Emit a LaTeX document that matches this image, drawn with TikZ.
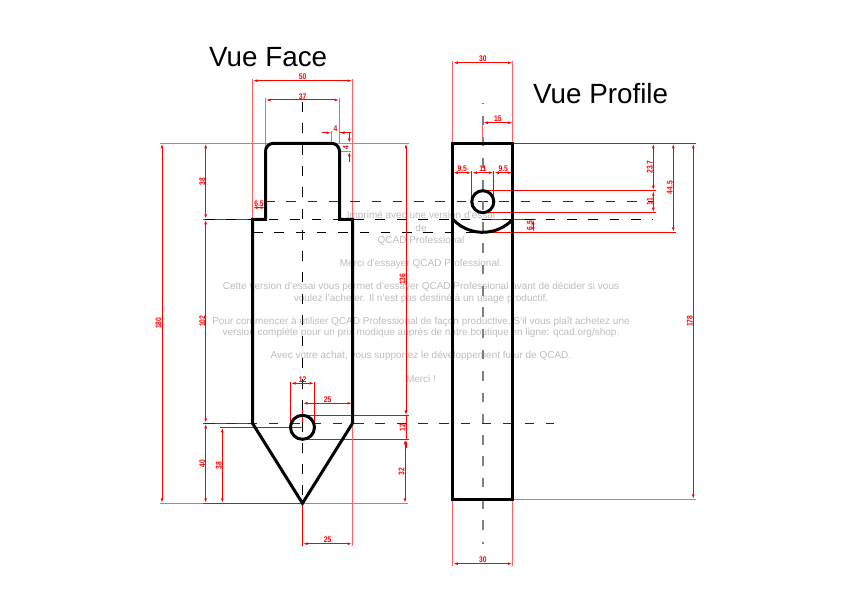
\documentclass[tikz,border=0pt]{standalone}
\usepackage{fontspec}
\setmainfont{Liberation Sans}
\newfontfamily\dimfont[FakeStretch=.82]{Liberation Sans}
\usetikzlibrary{arrows.meta}
\definecolor{wm}{HTML}{BEBEBE}
\definecolor{dk}{HTML}{2A2A2A}
\definecolor{gy}{HTML}{808080}
\definecolor{pk}{HTML}{FF6464}
\tikzset{
  outline/.style={draw=black,line width=3bp,line join=miter,line cap=butt},
  extl/.style={draw=pk,line width=1.35bp},
  exts/.style={draw=red,line width=1bp},
  diml/.style={draw=red,line width=1bp,{Latex[length=5bp,width=2.8bp]}-{Latex[length=5bp,width=2.8bp]}},
  dimo/.style={draw=red,line width=1bp},
  tip/.style={-{Latex[length=5bp,width=2.8bp]},draw=red,line width=1bp},
  dimt/.style={text=red,font=\dimfont\bfseries\fontsize{8.2bp}{8.2bp}\selectfont,inner sep=0pt},
  dimv/.style={dimt,rotate=90},
  hdash/.style={draw=dk,line width=1.1bp,dash pattern=on 9.5bp off 11.8bp},
  vdash/.style={draw=black,line width=1.1bp,dash pattern=on 10bp off 11.3bp},
  cdash/.style={draw=gy,line width=1.8bp,dash pattern=on 9.5bp off 11.8bp,dash phase=8.7bp},
  wmark/.style={text=wm,font=\fontsize{10bp}{10bp}\selectfont,inner sep=0pt,anchor=base},
  title/.style={text=black,font=\fontsize{27.8bp}{30bp}\selectfont,inner sep=0pt,anchor=base west}
}
% horizontal dimension: name, y, x1, x2, label
\newcommand{\DimH}[5]{%
  \coordinate (#1a) at (#3,#2); \coordinate (#1b) at (#4,#2);
  \draw[diml] (#1a) -- (#1b);
  \node[dimt] (#1t) at ({(#3+#4)/2},#2-3.6) {#5};}
% vertical dimension: name, x, y1, y2, label
\newcommand{\DimV}[5]{%
  \coordinate (#1a) at (#2,#3); \coordinate (#1b) at (#2,#4);
  \draw[diml] (#1a) -- (#1b);
  \node[dimv] (#1t) at (#2-3.4,{(#3+#4)/2}) {#5};}
\begin{document}
\begin{tikzpicture}[x=1bp,y=-1bp]
\useasboundingbox (0,0) rectangle (842,595);
\fill[white] (0,0) rectangle (842,595);
% watermark
\node[wmark] (w1) at (421,219) {Imprimé avec une version d'essai};
\node[wmark] (w2) at (421,232) {de};
\node[wmark] (w3) at (421,243.5) {QCAD Professional};
\node[wmark] (w4) at (421,266.5) {Merci d'essayer QCAD Professional.};
\node[wmark] (w5) at (421,289.5) {Cette version d'essai vous permet d'essayer QCAD Professional avant de décider si vous};
\node[wmark] (w6) at (421,301.5) {voulez l'acheter. Il n'est pas destiné à un usage productif.};
\node[wmark] (w7) at (421,324.5) {Pour commencer à utiliser QCAD Professional de façon productive, S'il vous plaît achetez une};
\node[wmark] (w8) at (421,335.5) {version complète pour un prix modique auprès de notre boutique en ligne: qcad.org/shop.};
\node[wmark] (w9) at (421,358.5) {Avec votre achat, vous supportez le développement futur de QCAD.};
\node[wmark] (w10) at (421,382.5) {Merci !};
% titles
\node[title] (t1) at (209,66.8) {Vue Face};
\node[title] (t2) at (533,103.3) {Vue Profile};
% extension lines front
\draw[extl] (159.5,143.3) -- (408.5,143.3);
\draw[extl] (159.5,503.3) -- (408,503.3);
\draw[exts] (203,503.3) -- (302.5,503.3);
\draw[exts] (203,219.3) -- (252.5,219.3);
\draw[exts] (203,423.3) -- (252.5,423.3);
\draw[exts] (220,427.3) -- (302.5,427.3);
\draw[exts] (302.5,415.3) -- (408.5,415.3);
\draw[exts] (302.5,439.3) -- (408.5,439.3);
\draw[extl] (252.5,219.3) -- (252.5,78.7);
\draw[extl] (352.5,219.3) -- (352.5,78.7);
\draw[extl] (265.5,151.3) -- (265.5,98);
\draw[extl] (265.5,207) -- (265.5,219.3);
\draw[extl] (339.5,143.3) -- (339.5,98);
\draw[extl] (331.5,143.3) -- (331.5,130.7);
\draw[extl] (339.5,151.3) -- (351.3,151.3);
\draw[exts] (339.5,132.7) -- (351.3,132.7);
\draw[exts] (290.5,427.3) -- (290.5,381.5);
\draw[exts] (314.5,427.3) -- (314.5,381.5);
\draw[exts] (302.5,427.3) -- (302.5,401.5);
\draw[extl] (352.5,423.3) -- (352.5,545.5);
\draw[exts] (302.5,503.3) -- (302.5,545.5);
% extension lines side
\draw[extl] (452.8,143.3) -- (452.8,61);
\draw[extl] (512.8,143.3) -- (512.8,61);
\draw[extl] (482.8,143.3) -- (482.8,121);
\draw[extl] (452.8,499.3) -- (452.8,565.5);
\draw[extl] (512.8,499.3) -- (512.8,565.5);
\draw[exts] (482.8,143.3) -- (696,143.3);
\draw[exts] (482.8,190.7) -- (655.5,190.7);
\draw[exts] (482.8,212.7) -- (655.5,212.7);
\draw[exts] (482.8,219.3) -- (535.5,219.3);
\draw[exts] (482.8,232.3) -- (675.5,232.3);
\draw[extl] (512.8,499.3) -- (696,499.3);
\draw[exts] (471.8,171) -- (471.8,201.7);
\draw[exts] (493.8,171) -- (493.8,201.7);
\draw[exts] (480.3,201.7) -- (485.3,201.7);
% centre and hidden lines
\draw[hdash] (265,201.7) -- (653,201.7);
\draw[hdash,draw=black] (205,219.3) -- (653,219.3);
\draw[hdash,draw=black] (253,232.3) -- (483,232.3);
\draw[hdash] (205,423.3) -- (554,423.3);
\draw[vdash] (302.5,102) -- (302.5,503);
\draw[cdash] (482.8,103) -- (482.8,544);
% front view outline
\draw[outline] (252.5,423.3) -- (252.5,219.3) -- (265.5,219.3) -- (265.5,151.3)
  arc[start angle=180,end angle=270,radius=8] -- (331.5,143.3)
  arc[start angle=270,end angle=360,radius=8] -- (339.5,219.3) -- (352.5,219.3)
  -- (352.5,423.3) -- (302.5,503.3) -- cycle;
\draw[outline] (302.5,427.3) circle[radius=12];
% side view outline
\draw[outline] (452.8,143.3) rectangle (512.8,499.3);
\draw[outline] (482.8,201.7) circle[radius=11];
\draw[outline] (452.8,219.3) arc[start angle=136.9,end angle=43.1,radius=41.1];
% dimensions front
\DimH{da}{80.7}{252.5}{352.5}{50}
\DimH{db}{100}{265.5}{339.5}{37}
\coordinate (dca) at (321.7,132.7); \coordinate (dcb) at (331.5,132.7);
\coordinate (dcc) at (349.5,132.7); \coordinate (dcd) at (339.5,132.7);
\draw[tip] (dca) -- (dcb); \draw[tip] (dcc) -- (dcd);
\node[dimt] (dct) at (335.5,129.1) {4};
\coordinate (dda) at (349.3,132.9); \coordinate (ddb) at (349.3,143.3);
\coordinate (ddc) at (349.3,161.7); \coordinate (ddd) at (349.3,151.3);
\draw[tip] (dda) -- (ddb); \draw[tip] (ddc) -- (ddd);
\node[dimv] (ddt) at (345.9,147.3) {4};
\DimH{de}{207.7}{252.5}{265.5}{6.5}
\DimV{df}{205.7}{143.3}{219.3}{38}
\DimV{dg}{205.7}{219.3}{423.3}{102}
\DimV{dh}{205.7}{423.3}{503.3}{40}
\DimV{di}{162}{143.3}{503.3}{180}
\DimV{dj}{406}{143.3}{415.3}{136}
\coordinate (dka) at (406,406); \coordinate (dkb) at (406,415.3);
\coordinate (dkc) at (406,448); \coordinate (dkd) at (406,439.3);
\draw[tip] (dka) -- (dkb); \draw[tip] (dkc) -- (dkd);
\draw[dimo] (dkb) -- (dkd);
\node[dimv] (dkt) at (402.5,427.3) {12};
\DimV{dl}{405}{439.3}{503.3}{32}
\DimV{dm}{222.3}{427.3}{503.3}{38}
\DimH{dn}{383.3}{290.5}{314.5}{12}
\DimH{do}{403.3}{302.5}{352.5}{25}
\DimH{dp}{543.7}{302.5}{352.5}{25}
% dimensions side
\DimH{dq}{62.7}{452.8}{512.8}{30}
\DimH{dr}{122.7}{482.8}{512.8}{15}
\DimH{ds}{172.7}{452.8}{471.8}{9.5}
\DimH{dt}{172.7}{471.8}{493.8}{11}
\DimH{du}{172.7}{493.8}{512.8}{9.5}
\DimV{dv}{653.3}{143.3}{190.7}{23.7}
\DimV{dw}{653.3}{190.7}{212.7}{11}
\DimV{dx}{673.3}{143.3}{232.3}{44.5}
\DimV{dy}{693.3}{143.3}{499.3}{178}
\DimV{dz}{533.3}{219.3}{232.3}{6.5}
\DimH{dza}{563.7}{452.8}{512.8}{30}
\end{tikzpicture}
\end{document}
